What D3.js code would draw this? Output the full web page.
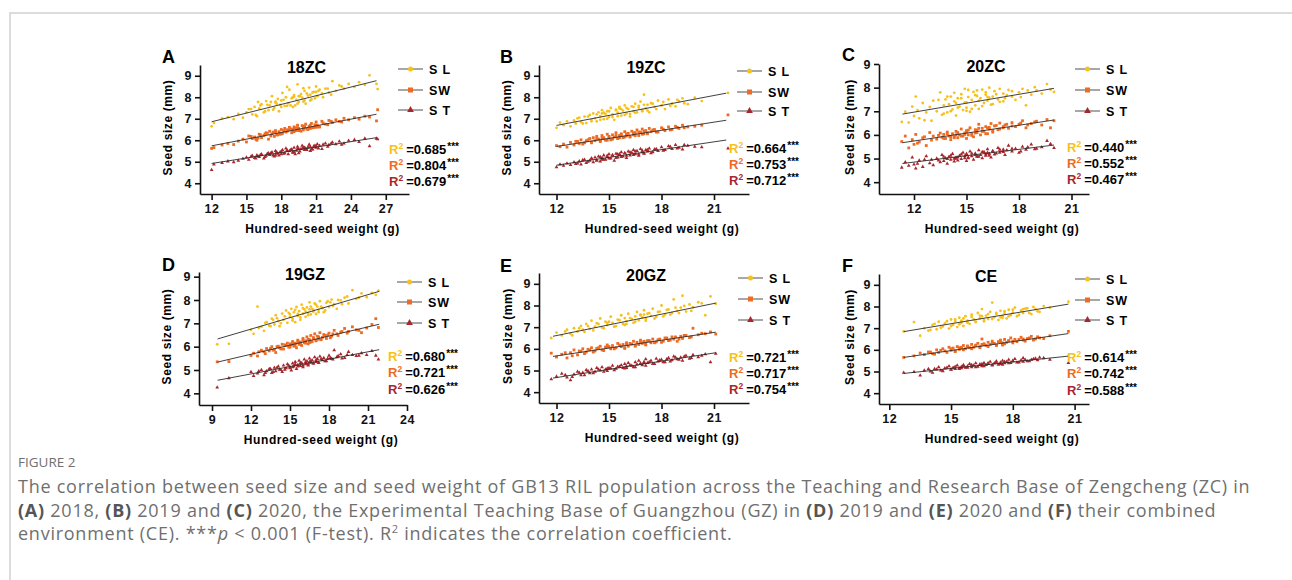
<!DOCTYPE html>
<html>
<head>
<meta charset="utf-8">
<script src="https://cdn.jsdelivr.net/npm/d3@7"></script>
<style>
  body { margin: 0; background: #fff; }
  svg text { font-family: "Liberation Sans", Arial, sans-serif; }
  .cap text { font-family: "Open Sans", sans-serif; }
</style>
</head>
<body>
<svg id="fig" width="1292" height="580"></svg>
<script>
// ---- data ----
const titles = ["18ZC", "19ZC", "20ZC", "19GZ", "20GZ", "CE"];
const letters = ["A", "B", "C", "D", "E", "F"];
const seriesNames = ["S L", "SW", "S T"];

// 18ZC
const xA = [12.0,12.2,12.9,13.4,13.9,14.3,14.7,15.0,15.2,15.5,15.7,15.9,16.1,16.3,16.5,16.7,16.9,17.0,17.2,17.4,17.5,17.7,17.8,18.0,18.1,18.3,18.4,18.6,18.7,18.9,19.0,19.1,19.3,19.4,19.5,19.7,19.8,20.0,20.1,20.3,20.4,20.6,20.8,21.0,21.1,21.3,21.5,21.8,22.1,22.4,22.7,23.0,23.4,23.8,24.3,24.7,25.2,25.6,26.2,26.3,16.0,17.9,19.2,19.9,20.5,18.5,
  15.4,15.8,16.2,16.6,17.1,17.3,17.6,18.2,18.8,19.1,19.4,19.6,19.9,20.2,20.5,20.7,20.9,21.2,21.6,22.0,22.3,23.2,16.8,18.0,19.0,20.0,21.0,17.5,18.5,19.5];
const slA = [6.65,6.80,7.02,7.08,6.98,7.22,7.05,7.30,7.45,7.20,7.55,7.12,7.48,7.68,7.30,7.82,7.40,7.62,8.05,7.50,7.75,7.92,7.35,7.85,8.20,7.60,8.00,7.72,8.35,7.95,7.55,8.10,7.88,8.60,7.78,8.15,7.98,8.30,7.70,8.08,8.45,7.90,8.25,8.50,8.05,8.35,8.18,8.40,8.22,8.75,8.30,8.55,8.40,8.62,8.48,8.70,8.58,9.02,8.62,8.38,7.78,7.65,7.62,8.42,8.12,8.48,
  7.45,7.18,7.62,7.35,7.78,7.42,7.70,7.88,7.62,8.02,7.70,8.05,7.80,8.18,7.85,8.22,7.95,8.30,8.00,8.40,8.12,8.50,7.65,7.55,8.00,7.85,8.25,7.80,7.60,8.05];
const swA = [5.62,5.66,5.78,5.85,5.80,5.96,6.05,5.92,6.20,6.08,6.15,6.00,6.28,6.12,6.22,6.35,6.05,6.42,6.30,6.18,6.45,6.25,6.40,6.50,6.32,6.55,6.38,6.48,6.60,6.35,6.52,6.62,6.45,6.70,6.55,6.42,6.68,6.58,6.75,6.50,6.65,6.78,6.60,6.85,6.70,6.62,6.88,6.75,6.92,6.82,6.95,6.88,7.02,6.95,7.05,6.98,7.12,7.08,6.90,7.42,6.10,6.28,6.58,6.48,6.55,6.42,
  6.18,6.05,6.25,6.30,6.20,6.38,6.25,6.45,6.52,6.40,6.58,6.45,6.62,6.52,6.70,6.58,6.72,6.62,6.80,6.72,6.88,6.85,6.32,6.30,6.40,6.65,6.60,6.38,6.48,6.45];
const stA = [4.62,4.88,4.95,5.02,4.98,5.05,5.14,5.20,5.10,5.28,5.18,5.30,5.22,5.35,5.15,5.28,5.40,5.32,5.45,5.25,5.50,5.38,5.30,5.48,5.55,5.40,5.62,5.35,5.50,5.58,5.45,5.65,5.52,5.70,5.40,5.60,5.75,5.55,5.62,5.68,5.80,5.58,5.72,5.65,5.82,5.75,5.60,5.85,5.78,5.90,5.82,5.95,5.85,5.98,6.02,5.92,6.08,5.72,6.08,6.05,5.25,5.45,5.35,5.65,5.50,5.52,
  5.25,5.15,5.32,5.22,5.40,5.30,5.45,5.38,5.55,5.45,5.60,5.48,5.65,5.55,5.70,5.58,5.75,5.62,5.80,5.70,5.85,5.80,5.38,5.35,5.42,5.65,5.72,5.30,5.52,5.60];

// 19ZC
const xB = [12.0,12.2,12.4,12.6,12.8,13.0,13.1,13.3,13.4,13.6,13.7,13.9,14.0,14.1,14.2,14.3,14.4,14.5,14.6,14.7,14.8,14.9,15.0,15.1,15.2,15.3,15.4,15.5,15.6,15.7,15.8,15.9,16.0,16.1,16.2,16.3,16.4,16.5,16.6,16.7,16.8,16.9,17.0,17.1,17.2,17.3,17.4,17.6,17.8,18.0,18.2,18.4,18.6,18.8,19.0,19.2,19.5,19.9,20.3,21.8,
  13.2,13.5,13.8,14.0,14.3,14.5,14.7,14.9,15.0,15.2,15.4,15.5,15.7,15.9,16.0,16.2,16.4,16.5,16.7,16.9,17.0,17.2,17.5,17.7,18.1,18.5,18.9,19.3,14.6,15.6];
const slB = [6.58,6.82,6.70,6.88,6.65,6.92,6.78,7.05,6.85,7.10,6.80,7.18,6.95,7.25,7.02,6.88,7.30,7.12,7.40,6.98,7.22,7.35,7.08,7.50,7.20,6.95,7.42,7.28,7.55,7.15,7.38,7.62,7.25,7.45,7.10,7.58,7.35,7.70,7.30,7.52,7.80,7.40,8.12,7.48,7.65,7.30,7.72,7.55,7.85,7.62,7.45,7.90,7.70,7.58,7.82,7.95,7.68,7.98,7.82,8.20,
  7.02,6.78,7.10,6.88,7.20,6.95,7.28,7.00,7.35,7.08,7.40,7.12,7.45,7.18,7.50,7.22,7.55,7.28,7.60,7.35,7.65,7.38,7.70,7.45,7.78,7.60,7.88,7.72,7.25,7.48];
const swB = [5.75,5.70,5.82,5.68,5.90,5.78,5.95,5.85,6.02,5.88,5.98,6.08,5.92,6.12,5.98,6.18,6.05,5.95,6.22,6.08,6.00,6.28,6.12,6.02,6.25,6.15,6.35,6.08,6.22,6.30,6.12,6.40,6.20,6.32,6.15,6.42,6.25,6.35,6.48,6.22,6.38,6.52,6.30,6.45,6.35,6.55,6.40,6.50,6.38,6.58,6.45,6.62,6.50,6.65,6.55,6.70,6.62,6.65,6.70,7.18,
  5.95,5.82,6.02,5.88,6.08,5.95,6.12,6.00,6.18,6.05,6.22,6.08,6.25,6.15,6.30,6.18,6.35,6.22,6.38,6.28,6.42,6.30,6.48,6.38,6.52,6.48,6.60,6.58,6.10,6.12];
const stB = [4.75,4.88,4.82,4.92,4.85,4.98,4.90,5.02,4.88,5.10,4.95,5.05,5.15,4.98,5.20,5.08,5.25,5.02,5.18,5.30,5.10,5.22,5.35,5.15,5.28,5.05,5.38,5.20,5.32,5.45,5.25,5.40,5.18,5.48,5.30,5.42,5.55,5.35,5.50,5.28,5.60,5.45,5.38,5.55,5.48,5.62,5.40,5.58,5.50,5.68,5.55,5.72,5.60,5.78,5.65,5.58,5.75,5.70,5.68,5.62,
  4.92,5.08,5.00,5.15,5.05,5.22,5.10,5.28,5.15,5.32,5.18,5.35,5.22,5.40,5.28,5.45,5.32,5.48,5.35,5.52,5.40,5.55,5.45,5.60,5.52,5.70,5.62,5.78,5.10,5.35];

// 20ZC
const xC = [11.3,11.5,11.7,11.9,12.0,12.1,12.3,12.5,12.7,12.9,13.0,13.1,13.3,13.5,13.6,13.7,13.8,13.9,14.0,14.1,14.2,14.3,14.4,14.5,14.6,14.7,14.8,14.9,15.0,15.0,15.1,15.2,15.3,15.4,15.5,15.6,15.7,15.8,15.9,16.0,16.1,16.2,16.3,16.4,16.5,16.6,16.8,16.9,17.1,17.2,17.4,17.6,17.8,18.0,18.2,18.4,18.7,19.0,19.3,19.6,19.8,20.0,
  13.4,13.7,13.9,14.1,14.3,14.5,14.7,14.9,15.1,15.3,15.5,15.7,15.9,16.1,16.3,16.5,16.7,16.9,17.1,17.3,17.6,18.1,18.5,18.9,12.2,12.6,14.4,15.0,15.6,16.2];
const slC = [6.55,6.98,6.52,7.20,6.80,7.62,6.70,7.35,6.95,7.18,6.60,7.45,7.00,7.80,6.85,7.25,7.50,6.95,7.30,7.62,7.08,7.42,6.82,7.55,7.20,7.72,7.05,7.95,7.38,7.15,7.60,6.98,7.48,7.82,7.25,7.65,7.10,7.55,7.92,7.35,7.70,7.45,8.00,7.28,7.62,7.85,7.50,7.40,7.75,7.55,7.90,7.62,7.48,7.80,7.95,7.25,7.70,7.88,7.75,8.15,7.92,7.82,
  7.48,6.90,7.62,7.00,7.78,7.15,7.55,7.38,7.90,7.10,7.68,7.45,7.22,7.80,7.58,7.30,7.72,7.95,7.42,7.68,7.85,7.60,7.88,8.02,7.05,6.62,7.35,7.02,7.88,7.60];
const swC = [5.72,5.95,5.45,5.80,5.60,6.02,5.70,5.88,5.55,6.10,5.78,5.95,5.82,6.08,5.90,6.02,5.85,6.12,5.95,5.80,6.05,5.92,6.15,5.88,6.00,6.25,5.95,6.08,5.85,6.18,6.00,6.30,6.05,5.92,6.22,6.10,6.45,6.00,6.28,6.15,6.35,6.05,6.25,6.48,6.12,6.38,6.22,6.50,6.30,6.42,6.28,6.52,6.35,6.45,6.60,6.30,6.48,6.58,6.42,6.65,6.30,6.60,
  5.98,5.85,6.05,5.92,5.88,6.10,5.95,6.02,6.20,5.98,6.08,6.28,6.15,6.05,6.32,6.18,6.40,6.25,6.35,6.45,6.38,6.50,6.42,6.55,5.65,5.92,6.00,6.12,6.20,6.30];
const stC = [4.62,4.85,4.70,5.05,4.75,4.58,4.92,4.65,5.10,4.80,4.95,4.72,5.00,4.85,5.15,4.90,5.02,4.78,5.08,4.95,5.20,4.88,5.05,4.92,5.12,4.98,5.25,5.02,4.90,5.15,5.05,5.30,5.10,4.95,5.22,5.08,5.35,5.15,5.02,5.28,5.12,5.40,5.20,5.05,5.32,5.18,5.45,5.25,5.38,5.15,5.55,5.30,5.42,5.25,5.50,5.38,5.60,5.42,5.48,5.75,5.62,5.45,
  4.92,5.08,4.98,5.12,5.00,5.05,5.18,5.10,5.02,5.22,5.15,5.08,5.28,5.18,5.12,5.30,5.22,5.38,5.28,5.35,5.42,5.30,5.48,5.40,4.78,4.95,5.00,5.20,5.10,5.25];

// 19GZ
const xD = [9.4,10.3,12.0,12.2,12.5,12.8,13.0,13.2,13.4,13.6,13.8,13.9,14.1,14.2,14.4,14.5,14.7,14.8,15.0,15.1,15.2,15.3,15.4,15.5,15.6,15.7,15.8,15.9,16.0,16.1,16.2,16.3,16.4,16.5,16.6,16.7,16.8,16.9,17.0,17.1,17.2,17.3,17.5,17.6,17.8,18.0,18.2,18.4,18.6,18.9,19.2,19.5,19.8,20.1,20.5,20.9,21.3,21.6,21.8,
  12.6,13.1,13.5,13.7,14.0,14.3,14.6,14.9,15.2,15.4,15.6,15.8,16.0,16.2,16.4,16.6,16.8,17.0,17.2,17.4,17.7,18.1,18.3,18.7,19.0,19.4,20.3,15.0,16.5,17.9];
const slD = [6.10,6.12,6.72,6.55,7.72,6.85,6.68,7.05,6.90,7.20,6.95,7.35,7.10,6.88,7.42,7.15,7.55,7.02,7.38,7.62,7.20,7.48,7.05,7.70,7.32,7.52,7.15,7.80,7.42,7.60,7.28,7.68,7.45,7.90,7.38,7.62,7.50,7.85,7.40,7.72,7.58,7.95,7.65,7.48,7.88,7.70,8.02,7.82,7.62,7.98,8.10,7.85,8.42,8.05,8.28,8.12,8.30,8.22,8.40,
  6.80,7.02,6.88,7.15,7.22,7.00,7.30,7.45,7.12,7.58,7.40,7.25,7.65,7.50,7.35,7.72,7.58,7.80,7.48,7.72,7.55,7.90,7.75,8.00,7.82,8.15,8.10,7.28,7.60,7.95];
const swD = [5.35,5.36,5.62,5.72,5.60,5.85,5.78,5.92,5.82,6.00,5.88,5.75,6.02,5.95,6.10,5.90,6.05,6.15,5.98,6.08,6.22,6.02,6.15,5.95,6.28,6.10,6.20,6.05,6.35,6.18,6.25,6.42,6.12,6.30,6.48,6.22,6.38,6.55,6.28,6.45,6.32,6.60,6.40,6.52,6.35,6.58,6.45,6.70,6.55,6.62,6.78,6.65,6.85,6.72,6.60,6.80,6.95,7.20,6.82,
  5.78,5.70,5.92,5.85,6.00,5.90,6.08,5.98,6.15,6.05,6.22,6.10,6.28,6.15,6.32,6.20,6.38,6.25,6.42,6.30,6.48,6.38,6.55,6.48,6.65,6.58,6.70,6.12,6.18,6.50];
const stD = [4.25,4.65,4.92,4.75,4.85,5.00,4.78,4.95,5.05,4.88,5.10,4.95,5.15,5.02,4.92,5.20,5.08,5.25,5.12,4.98,5.28,5.15,5.35,5.05,5.22,5.40,5.18,5.30,5.12,5.45,5.25,5.38,5.20,5.50,5.32,5.42,5.28,5.55,5.35,5.48,5.30,5.58,5.42,5.52,5.38,5.62,5.48,5.85,5.55,5.68,5.52,5.78,5.65,5.60,5.72,5.65,5.82,5.62,5.45,
  4.95,4.88,5.05,4.92,5.10,5.00,5.02,5.20,5.12,5.25,5.15,5.30,5.20,5.35,5.25,5.38,5.28,5.42,5.32,5.48,5.38,5.52,5.45,5.60,5.50,5.65,5.62,5.08,5.35,5.50];

// 20GZ
const xE = [11.7,12.0,12.3,12.6,12.8,13.0,13.2,13.4,13.5,13.7,13.9,14.0,14.2,14.3,14.5,14.6,14.8,14.9,15.1,15.2,15.4,15.5,15.7,15.8,15.9,16.0,16.1,16.3,16.4,16.5,16.6,16.7,16.8,16.9,17.0,17.1,17.2,17.4,17.5,17.7,17.8,18.0,18.2,18.4,18.6,18.7,18.9,19.1,19.2,19.4,19.6,19.8,20.1,20.5,20.8,21.1,
  12.5,12.9,13.3,13.6,13.8,14.1,14.4,14.7,15.0,15.3,15.6,15.9,16.2,16.5,16.8,17.1,17.3,17.6,17.9,18.1,18.3,18.5,18.8,19.0,19.3,19.7,20.3,14.9,16.0,17.0];
const slE = [6.50,6.75,6.62,6.88,6.70,6.95,6.80,7.05,6.88,7.15,6.92,7.30,7.02,7.18,7.40,6.98,7.25,7.10,7.48,7.20,7.05,7.35,7.55,7.15,7.42,7.28,7.62,7.38,7.20,7.50,7.70,7.32,7.58,7.45,7.78,7.40,7.62,7.52,7.85,7.48,7.70,8.00,7.58,7.82,7.65,8.28,7.75,7.90,8.45,7.72,8.05,7.92,8.15,7.55,8.42,8.08,
  6.80,6.62,6.95,6.78,7.05,6.85,7.15,6.95,7.25,7.02,7.32,7.10,7.42,7.25,7.55,7.30,7.65,7.40,7.72,7.50,7.80,7.58,7.90,7.65,7.98,7.75,8.10,7.20,7.15,7.58];
const swE = [5.80,5.62,5.75,5.58,5.82,5.95,5.72,5.88,6.00,5.85,5.95,6.05,5.90,6.02,6.12,5.95,6.08,6.18,6.00,6.15,6.05,6.25,6.10,6.20,6.02,6.28,6.12,6.22,6.35,6.15,6.30,6.20,6.40,6.25,6.32,6.18,6.38,6.28,6.45,6.32,6.42,6.30,6.50,6.38,6.55,6.45,6.35,6.58,6.48,6.62,6.52,6.95,6.65,6.70,6.78,6.68,
  5.82,5.68,5.90,5.78,5.98,5.85,6.05,5.92,6.10,6.00,6.18,6.05,6.25,6.12,6.32,6.20,6.38,6.28,6.45,6.35,6.50,6.40,6.55,6.45,6.62,6.55,6.72,6.10,6.22,6.35];
const stE = [4.60,4.72,4.85,4.68,4.55,4.82,4.95,4.78,4.90,5.02,4.88,5.05,4.95,5.12,5.00,5.15,5.05,4.98,5.10,5.22,5.08,5.18,5.25,5.12,5.30,5.20,5.35,5.22,5.15,5.38,5.28,5.45,5.32,5.25,5.40,5.52,5.35,5.45,5.30,5.55,5.42,5.50,5.38,5.58,5.48,5.65,5.52,5.60,5.45,5.68,5.55,5.72,5.62,5.75,5.38,5.78,
  4.80,4.70,4.90,4.78,4.98,4.88,5.05,4.95,5.12,5.02,5.18,5.10,5.25,5.15,5.32,5.22,5.40,5.30,5.48,5.38,5.52,5.42,5.60,5.50,5.65,5.58,5.68,5.10,5.12,5.35];

// CE
const xF = [12.7,13.2,13.5,13.7,13.9,14.1,14.3,14.4,14.6,14.7,14.9,15.0,15.1,15.2,15.3,15.4,15.5,15.6,15.7,15.8,15.9,16.0,16.1,16.2,16.3,16.4,16.5,16.6,16.7,16.8,16.9,17.0,17.1,17.2,17.3,17.4,17.5,17.6,17.7,17.8,17.9,18.0,18.1,18.2,18.4,18.5,18.7,18.9,19.1,19.3,19.8,20.7,
  14.0,14.2,14.5,14.8,15.0,15.2,15.4,15.6,15.8,16.0,16.2,16.4,16.6,16.8,17.0,17.2,17.4,17.6,17.8,18.0,18.3,18.6,18.8,19.0,19.2,19.5,15.5,16.5,17.5,18.5];
const slF = [6.85,7.28,6.65,7.00,6.88,7.15,6.95,7.30,7.08,7.22,6.98,7.40,7.15,7.32,7.05,7.48,7.25,7.10,7.55,7.35,7.20,7.62,7.40,7.28,7.70,7.45,7.88,7.32,7.58,7.42,7.75,8.18,7.50,7.65,7.38,7.80,7.55,7.68,7.45,7.85,7.60,7.72,7.95,7.55,7.82,7.70,7.92,7.65,7.88,7.75,7.95,8.22,
  6.92,7.20,7.02,7.32,7.10,7.40,7.18,7.45,7.25,7.52,7.30,7.58,7.38,7.65,7.42,7.70,7.50,7.78,7.55,7.85,7.62,7.90,7.70,7.98,7.78,8.02,7.35,7.55,7.48,7.88];
const swF = [5.65,5.72,5.85,5.78,5.90,5.82,6.00,5.88,6.05,5.95,6.12,5.98,6.08,5.92,6.15,6.02,6.10,6.20,6.05,6.18,6.10,6.25,6.12,6.22,6.30,6.15,6.50,6.28,6.20,6.35,6.25,6.40,6.30,6.22,6.38,6.45,6.32,6.48,6.35,6.42,6.55,6.40,6.48,6.38,6.58,6.45,6.52,6.62,6.50,6.55,6.65,6.85,
  5.90,5.80,5.98,5.88,6.05,5.95,6.10,6.00,6.15,6.05,6.20,6.10,6.25,6.15,6.32,6.20,6.38,6.28,6.42,6.32,6.48,6.40,6.55,6.45,6.60,6.52,6.12,6.25,6.22,6.50];
const stF = [4.95,4.98,4.82,5.05,5.12,4.95,5.10,5.20,5.02,5.15,5.25,5.08,5.18,5.12,5.28,5.15,5.22,5.30,5.18,5.25,5.35,5.20,5.28,5.38,5.22,5.32,5.25,5.40,5.30,5.35,5.45,5.28,5.38,5.48,5.32,5.42,5.50,5.38,5.45,5.55,5.40,5.48,5.58,5.42,5.52,5.62,5.48,5.55,5.60,5.65,5.55,5.40,
  5.00,5.12,5.05,5.18,5.10,5.22,5.12,5.25,5.18,5.30,5.20,5.32,5.25,5.38,5.30,5.42,5.35,5.45,5.38,5.50,5.42,5.55,5.48,5.58,5.52,5.62,5.15,5.35,5.32,5.45];

// fitted lines: [x start, x end], then SL, SW, ST y at those ends
const fitA = [[12, 26.2], [6.86, 8.77], [5.74, 7.21], [4.92, 6.12]];
const fitB = [[12, 21.7], [6.69, 8.19], [5.71, 6.93], [4.84, 6.01]];
const fitC = [[11.34, 20.0], [6.88, 7.97], [5.67, 6.63], [4.79, 5.57]];
const fitD = [[9.43, 21.86], [6.33, 8.37], [5.34, 6.96], [4.56, 5.87]];
const fitE = [[11.8, 21.1], [6.58, 8.11], [5.65, 6.77], [4.65, 5.82]];
const fitF = [[12.7, 20.7], [6.84, 8.11], [5.65, 6.75], [4.91, 5.71]];

const r2A = ["0.685", "0.804", "0.679"];
const r2B = ["0.664", "0.753", "0.712"];
const r2C = ["0.440", "0.552", "0.467"];
const r2D = ["0.680", "0.721", "0.626"];
const r2E = ["0.721", "0.717", "0.754"];
const r2F = ["0.614", "0.742", "0.588"];

// ---- drawing ----
const colors = ["#F7C11C", "#EF6A22", "#A8272C"];
const svg = d3.select("#fig");

// frame of the figure box
svg.append("line").attr("x1", 9).attr("x2", 1292).attr("y1", 13).attr("y2", 13)
  .attr("stroke", "#dcdcdc").attr("stroke-width", 2);
svg.append("line").attr("x1", 10).attr("x2", 10).attr("y1", 12).attr("y2", 580)
  .attr("stroke", "#dcdcdc").attr("stroke-width", 2);

const panels = [
  {x: xA, ys: [slA, swA, stA], fit: fitA, r2: r2A, l: 200, r: 409, t: 65, b: 194, xd: [11, 29], xt: [12,15,18,21,24,27], yd: [3.5, 9.5],
   lx: 398, ly: [69, 90, 110], rx: 389, ry: [149, 165, 181], let: [162, 63], ytx: 168},
  {x: xB, ys: [slB, swB, stB], fit: fitB, r2: r2B, l: 539, r: 749, t: 65, b: 194, xd: [11, 23], xt: [12,15,18,21], yd: [3.5, 9.5],
   lx: 737, ly: [71, 92, 111], rx: 729, ry: [148, 164, 180], let: [500, 63], ytx: 507},
  {x: xC, ys: [slC, swC, stC], fit: fitC, r2: r2C, l: 879, r: 1089, t: 64, b: 194, xd: [10, 22], xt: [12,15,18,21], yd: [3.5, 9],
   lx: 1075, ly: [69, 90, 111], rx: 1067, ry: [147, 163, 179], let: [842, 61], ytx: 850},
  {x: xD, ys: [slD, swD, stD], fit: fitD, r2: r2D, l: 199, r: 407, t: 272, b: 405, xd: [8, 24], xt: [9,12,15,18,21,24], yd: [3.5, 9.2],
   lx: 397, ly: [282, 302, 323], rx: 388, ry: [356, 372, 389], let: [162, 271], ytx: 167},
  {x: xE, ys: [slE, swE, stE], fit: fitE, r2: r2E, l: 539, r: 749, t: 273, b: 403, xd: [11, 23], xt: [12,15,18,21], yd: [3.5, 9.5],
   lx: 738, ly: [278, 299, 320], rx: 729, ry: [357, 373, 389], let: [500, 272], ytx: 508},
  {x: xF, ys: [slF, swF, stF], fit: fitF, r2: r2F, l: 879, r: 1089, t: 274, b: 404, xd: [11.5, 21.7], xt: [12,15,18,21], yd: [3.5, 9.5],
   lx: 1075, ly: [279, 300, 320], rx: 1067, ry: [357, 373, 390], let: [842, 272], ytx: 850}
];

function marker(sel, k, cx, cy, s) {
  if (k === 0) {
    sel.append("circle").attr("cx", cx).attr("cy", cy).attr("r", s * 0.5).attr("fill", colors[0]);
  } else if (k === 1) {
    sel.append("rect").attr("x", cx - s / 2).attr("y", cy - s / 2).attr("width", s).attr("height", s).attr("fill", colors[1]);
  } else {
    sel.append("path").attr("d", d3.symbol(d3.symbolTriangle, s * s * 0.8)())
      .attr("transform", `translate(${cx},${cy})`).attr("fill", colors[2]);
  }
}

panels.forEach((p, i) => {
  const x = d3.scaleLinear().domain(p.xd).range([p.l, p.r]);
  const y = d3.scaleLinear().domain(p.yd).range([p.b, p.t]);
  const g = svg.append("g");

  // points
  p.ys.forEach((ys, k) => {
    const gg = g.append("g");
    d3.zip(p.x, ys).forEach(d => marker(gg, k, x(d[0]), y(d[1]), 2.8));
  });

  // fit lines
  [1, 2, 3].forEach(k => {
    g.append("line")
      .attr("x1", x(p.fit[0][0])).attr("x2", x(p.fit[0][1]))
      .attr("y1", y(p.fit[k][0])).attr("y2", y(p.fit[k][1]))
      .attr("stroke", "#2a2a2a").attr("stroke-width", 0.9);
  });

  // axes
  const ax = g.append("g").attr("transform", `translate(0,${p.b})`)
    .call(d3.axisBottom(x).tickValues(p.xt).tickFormat(d3.format("d")).tickSize(6).tickSizeOuter(0).tickPadding(4));
  const ay = g.append("g").attr("transform", `translate(${p.l},0)`)
    .call(d3.axisLeft(y).tickValues([4, 5, 6, 7, 8, 9]).tickFormat(d3.format("d")).tickSize(5).tickSizeOuter(0).tickPadding(3));
  [ax, ay].forEach(a => {
    a.select(".domain").attr("stroke", "#111").attr("stroke-width", 1.6);
    a.selectAll(".tick line").attr("stroke", "#111").attr("stroke-width", 1.6);
    a.selectAll(".tick text").attr("fill", "#111")
      .style("font-size", "12.5px").style("font-weight", "bold").style("letter-spacing", "0.6px");
  });

  // titles
  g.append("text").attr("x", (p.l + p.r) / 2 + 2).attr("y", p.t + 8)
    .attr("text-anchor", "middle").style("font-size", "16px").style("font-weight", "bold")
    .text(titles[i]);
  g.append("text").attr("x", p.let[0]).attr("y", p.let[1])
    .style("font-size", "18px").style("font-weight", "bold").text(letters[i]);
  g.append("text").attr("x", (p.l + p.r) / 2 + 18).attr("y", p.b + 39)
    .attr("text-anchor", "middle").style("font-size", "12px").style("font-weight", "bold")
    .style("letter-spacing", "0.6px").text("Hundred-seed weight (g)");
  g.append("text").attr("transform", `translate(${p.ytx + 4},${(p.t + p.b) / 2 - 2}) rotate(-90)`)
    .attr("text-anchor", "middle").style("font-size", "12px").style("font-weight", "bold")
    .style("letter-spacing", "0.6px").text("Seed size (mm)");

  // legend
  seriesNames.forEach((nm, k) => {
    const ly = p.ly[k];
    g.append("line").attr("x1", p.lx).attr("x2", p.lx + 25).attr("y1", ly).attr("y2", ly)
      .attr("stroke", "#777").attr("stroke-width", 1.3);
    marker(g, k, p.lx + 12.5, ly, 5);
    g.append("text").attr("x", p.lx + 31).attr("y", ly + 4.5)
      .style("font-size", "12.5px").style("font-weight", "bold").style("letter-spacing", "0.8px")
      .text(nm);
  });

  // R2 labels
  p.r2.forEach((v, k) => {
    const t = g.append("text").attr("x", p.rx).attr("y", p.ry[k] + 4.5)
      .style("font-size", "13px").style("font-weight", "bold");
    t.append("tspan").attr("fill", colors[k]).text("R");
    t.append("tspan").attr("fill", colors[k]).attr("dy", -5).style("font-size", "8.5px").text("2");
    t.append("tspan").attr("dy", 5).attr("dx", 3).text("=" + v);
    t.append("tspan").attr("dy", -4).attr("dx", 1).style("font-size", "10px").text("***");
  });
});

// caption
const cap = svg.append("g").attr("class", "cap").attr("fill", "#6f6f6f");
cap.append("text").attr("x", 18).attr("y", 467).style("font-size", "13.5px").text("FIGURE 2");

const capLines = [
  [["The correlation between seed size and seed weight of GB13 RIL population across the Teaching and Research Base of Zengcheng (ZC) in", ""]],
  [["(A)", "b"], [" 2018, ", ""], ["(B)", "b"], [" 2019 and ", ""], ["(C)", "b"], [" 2020, the Experimental Teaching Base of Guangzhou (GZ) in ", ""],
   ["(D)", "b"], [" 2019 and ", ""], ["(E)", "b"], [" 2020 and ", ""], ["(F)", "b"], [" their combined", ""]],
  [["environment (CE). ***", ""], ["p", "i"], [" < 0.001 (F-test). R", ""], ["2", "sup"], [" indicates the correlation coefficient.", "down"]]
];
const capY = [493, 517, 540];
capLines.forEach((parts, li) => {
  const t = cap.append("text").attr("x", 18).attr("y", capY[li])
    .style("font-size", "18px").style("letter-spacing", "0.75px");
  parts.forEach(([s, st]) => {
    const ts = t.append("tspan").text(s);
    if (st === "b") ts.style("font-weight", "bold").attr("fill", "#555");
    if (st === "i") ts.style("font-style", "italic");
    if (st === "sup") ts.attr("dy", -7).style("font-size", "11px");
    if (st === "down") ts.attr("dy", 7);
  });
});
</script>
</body>
</html>
